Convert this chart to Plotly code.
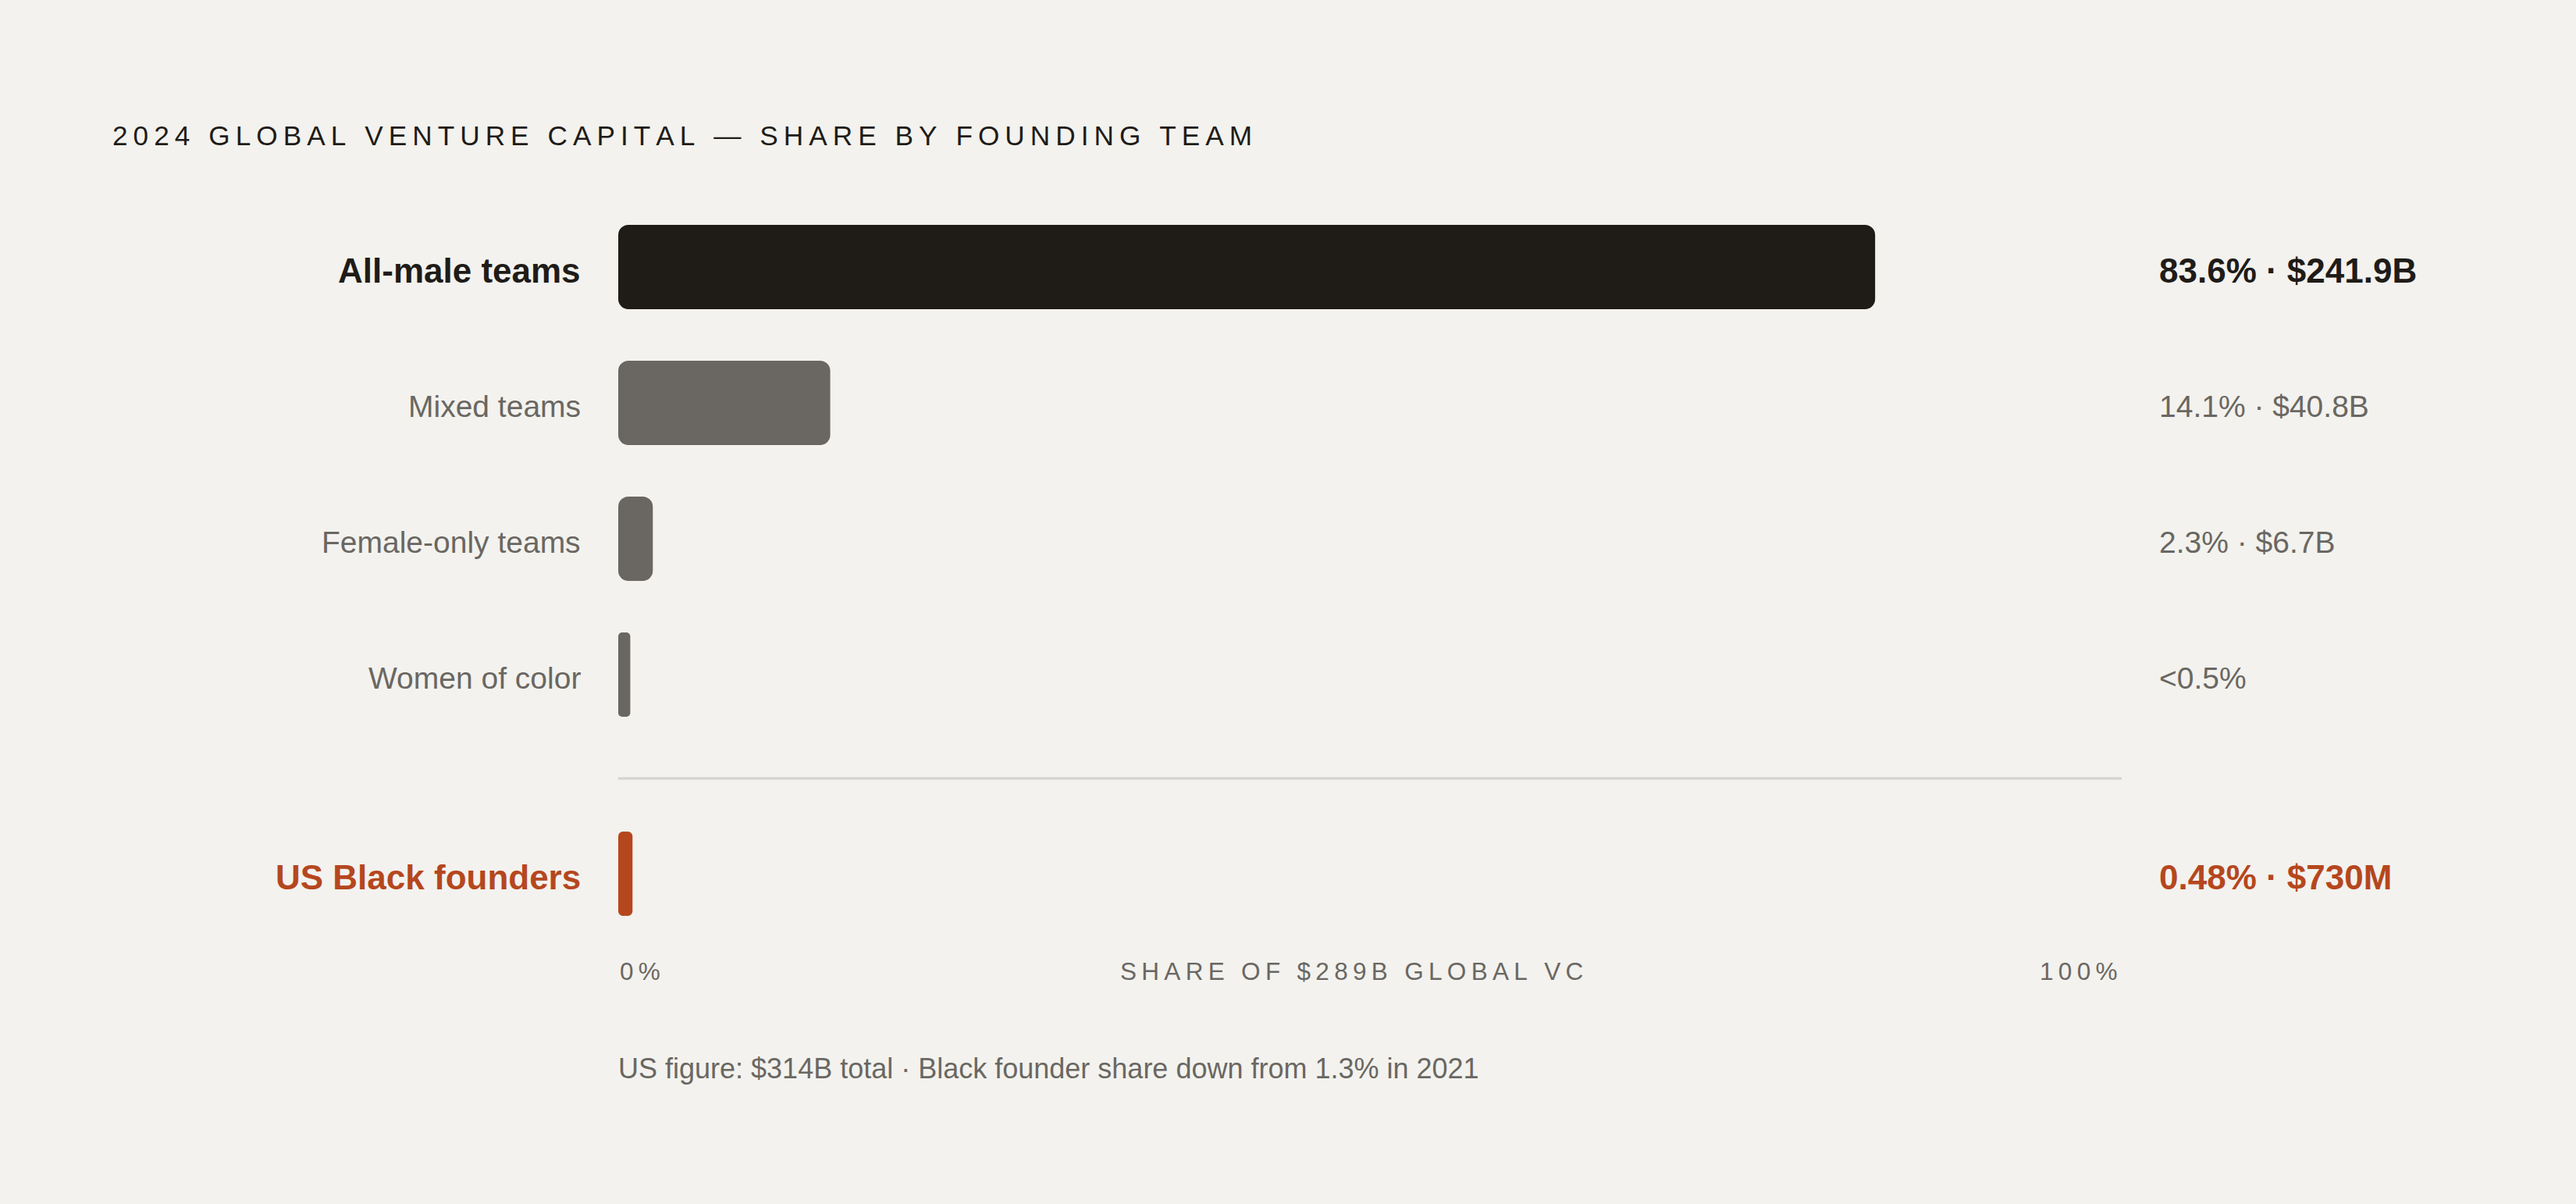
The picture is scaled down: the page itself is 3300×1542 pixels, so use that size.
import plotly.graph_objects as go

# ---------------- data ----------------
categories = ["All-male teams", "Mixed teams", "Female-only teams", "Women of color", "US Black founders"]
bar_share = [83.6, 14.1, 2.3, 0.8, 0.95]          # drawn bar length, % of global VC
value_labels = ["83.6% · $241.9B", "14.1% · $40.8B", "2.3% · $6.7B", "<0.5%", "0.48% · $730M"]
axis_labels = ["0%", "SHARE OF $289B GLOBAL VC", "100%"]
title_text = "2024 GLOBAL VENTURE CAPITAL — SHARE BY FOUNDING TEAM"
footnote_text = "US figure: $314B total · Black founder share down from 1.3% in 2021"

# ---------------- styling / layout constants ----------------
W, H = 3300, 1542
PL, PR = 792, 2718          # plot area left/right in px (0% .. 100%)
PT, PB = 250, 1300          # plot area top/bottom in px
ROW0_PX, UNIT = 342, 174    # first row centre, row pitch (px)
row_y = [0, 1, 2, 3, 4.466]
sep_y = 3.764
bar_w = 108 / UNIT

BG = "#f3f2ee"
DARK = "#1f1c18"
GREY = "#6a6762"
ACCENT = "#b5471e"
LINE = "#d4d2cd"
FONT = "Liberation Sans, Arial, Helvetica, sans-serif"

bar_colors = [DARK, GREY, GREY, GREY, ACCENT]
label_colors = [DARK, GREY, GREY, GREY, ACCENT]
label_bold = [True, False, False, False, True]


def spaced(s):
    return "\u2009".join(s)


def px_x(px):
    return (px - PL) / (PR - PL)


def px_y(px):
    return (PB - px) / (PB - PT)


fig = go.Figure()

# Each bar is drawn as two overlapping pieces: one grows leftwards to 0 (rounded at 0),
# the other grows rightwards to the value (rounded at the value); together they form
# one bar with rounded corners at both ends.
left_piece_end = [v * 0.75 for v in bar_share]
right_piece_start = [v * 0.25 for v in bar_share]
fig.add_trace(go.Bar(
    orientation="h", y=row_y,
    x=[-e for e in left_piece_end], base=left_piece_end,
    width=bar_w,
    marker=dict(color=bar_colors, line=dict(width=0), cornerradius=13),
    hoverinfo="skip", showlegend=False,
))
fig.add_trace(go.Bar(
    orientation="h", y=row_y,
    x=[v - s for v, s in zip(bar_share, right_piece_start)], base=right_piece_start,
    width=bar_w,
    marker=dict(color=bar_colors, line=dict(width=0), cornerradius=13),
    hoverinfo="skip", showlegend=False,
))

annotations = []
for i, cat in enumerate(categories):
    b = label_bold[i]
    annotations.append(dict(
        x=0, y=row_y[i], xref="x", yref="y", xanchor="right", yanchor="middle",
        xshift=-46, yshift=-4, showarrow=False,
        text=f"<b>{cat}</b>" if b else cat,
        font=dict(family=FONT, size=44 if b else 39, color=label_colors[i]),
    ))
    annotations.append(dict(
        x=100, y=row_y[i], xref="x", yref="y", xanchor="left", yanchor="middle",
        xshift=46, yshift=-4, showarrow=False,
        text=f"<b>{value_labels[i]}</b>" if b else value_labels[i],
        font=dict(family=FONT, size=44 if b else 39, color=label_colors[i]),
    ))

# axis captions
ax_font = dict(family=FONT, size=31.5, color=GREY)
annotations.append(dict(x=0, y=px_y(1244), xref="x", yref="paper", xanchor="left", yanchor="middle",
                        showarrow=False, text=spaced(axis_labels[0]), font=ax_font))
annotations.append(dict(x=px_x(1731) * 100, y=px_y(1244), xref="x", yref="paper", xanchor="center",
                        yanchor="middle", showarrow=False, text=spaced(axis_labels[1]), font=ax_font))
annotations.append(dict(x=100, y=px_y(1244), xref="x", yref="paper", xanchor="right", yanchor="middle",
                        xshift=-4, showarrow=False, text=spaced(axis_labels[2]), font=ax_font))

# footnote
annotations.append(dict(x=0, y=px_y(1368), xref="x", yref="paper", xanchor="left", yanchor="middle",
                        xshift=-2, showarrow=False, text=footnote_text,
                        font=dict(family=FONT, size=36, color=GREY)))

# title
annotations.append(dict(x=px_x(142), y=px_y(173), xref="paper", yref="paper", xanchor="left",
                        yanchor="middle", showarrow=False, text=spaced(title_text),
                        font=dict(family=FONT, size=35.2, color=DARK)))

fig.update_layout(
    width=W, height=H,
    paper_bgcolor=BG, plot_bgcolor=BG,
    margin=dict(l=PL, r=W - PR, t=PT, b=H - PB, pad=0),
    barmode="overlay",
    showlegend=False,
    xaxis=dict(range=[0, 100], visible=False, fixedrange=True),
    yaxis=dict(range=[(PB - ROW0_PX) / UNIT, -(ROW0_PX - PT) / UNIT], visible=False, fixedrange=True),
    shapes=[dict(type="line", xref="x", yref="y", x0=0, x1=100, y0=sep_y, y1=sep_y,
                 line=dict(color=LINE, width=3), layer="below")],
    annotations=annotations,
)

fig.write_html(
    "out.html",
    config={"displayModeBar": False},
    post_script="document.body.style.margin='0';document.body.style.overflow='hidden';"
                "document.documentElement.style.background='" + BG + "';",
)
